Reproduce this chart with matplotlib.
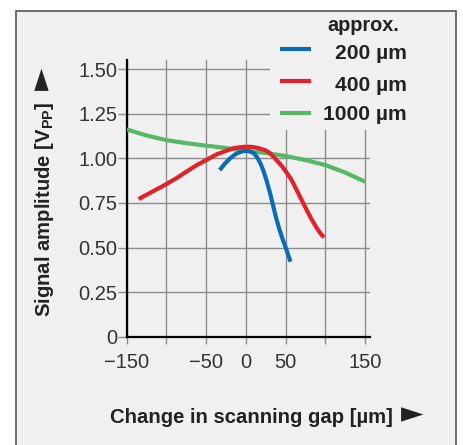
import matplotlib
matplotlib.use('Agg')
import matplotlib.pyplot as plt
from matplotlib.patches import Rectangle
from matplotlib.lines import Line2D

plt.rcParams['font.family'] = ['Liberation Sans', 'DejaVu Sans']
plt.rcParams['mathtext.fontset'] = 'custom'
plt.rcParams['mathtext.bf'] = 'Liberation Sans:bold'
plt.rcParams['mathtext.rm'] = 'Liberation Sans:bold'
plt.rcParams['mathtext.default'] = 'bf'

# ==================== data ====================
gap_200 = [-33, -27, -20, -12, -4, 0, 5, 10, 14, 18, 22, 26, 30, 34, 38, 42, 46, 50, 53, 56]
amp_200 = [0.934, 0.968, 1.000, 1.027, 1.040, 1.042, 1.039, 1.028, 1.006, 0.974,
           0.930, 0.874, 0.810, 0.738, 0.665, 0.603, 0.548, 0.500, 0.460, 0.421]

gap_400 = [-135, -120, -100, -87, -75, -62, -50, -37, -25, -16, -8, 0, 8, 16, 24,
           30, 36.5, 43, 49, 57.5, 65.8, 74.2, 78.4, 82.6, 86.8, 91, 94.5, 98]
amp_400 = [0.772, 0.808, 0.856, 0.890, 0.925, 0.962, 0.990, 1.022, 1.042, 1.056, 1.062, 1.065,
           1.064, 1.057, 1.046, 1.030, 1.000, 0.968, 0.934, 0.878, 0.804, 0.729, 0.693, 0.658,
           0.626, 0.596, 0.575, 0.557]

gap_1000 = [-150, -125, -100, -75, -50, -25, 0, 25, 50, 75, 100, 125, 150]
amp_1000 = [1.162, 1.128, 1.102, 1.085, 1.071, 1.058, 1.043, 1.030, 1.013, 0.990, 0.962, 0.920, 0.869]

series_labels = ['200 µm', '400 µm', '1000 µm']
series_colors = ['#0a6cb6', '#e4212a', '#55b864']

x_ticks = [-150, -100, -50, 0, 50, 100, 150]
x_ticklabels = ['\u2212150', '', '\u221250', '0', '50', '', '150']
y_ticks = [0, 0.25, 0.5, 0.75, 1.0, 1.25, 1.5]
y_ticklabels = ['0', '0.25', '0.50', '0.75', '1.00', '1.25', '1.50']

# ==================== figure ====================
W, H = 463, 445
bg = '#f0f0f0'
grid_col = '#8c8c8c'
txt_col = '#222222'

fig = plt.figure(figsize=(W / 100, H / 100), dpi=100)
fig.patch.set_facecolor('white')
fig.add_artist(Rectangle((15.5 / W, -0.05), (456 - 15.5) / W, 1.05 - 10.5 / H,
                         transform=fig.transFigure, facecolor=bg, edgecolor='#555555',
                         lw=1.2, zorder=-1))

ax = fig.add_axes([126.7 / W, 108.2 / H, 243.3 / W, 276.8 / H])
ax.set_facecolor('none')
ax.set_xlim(-150, 156)
ax.set_ylim(0, 1.551)

ax.set_xticks(x_ticks)
ax.set_xticklabels(x_ticklabels)
ax.set_yticks(y_ticks)
ax.set_yticklabels(y_ticklabels)
ax.tick_params(axis='x', direction='out', length=5, width=1, color=grid_col,
               pad=6.5, labelsize=14.5, labelcolor='#333333')
ax.tick_params(axis='y', direction='out', length=6.5, width=1, color=grid_col,
               pad=0.3, labelsize=14.5, labelcolor='#333333')
ax.xaxis.get_major_ticks()[0].tick1line.set_color('black')
ax.yaxis.get_major_ticks()[0].tick1line.set_color('black')

ax.grid(color=grid_col, lw=1)
ax.set_axisbelow(True)
for s in ['top', 'right']:
    ax.spines[s].set_visible(False)
for s in ['left', 'bottom']:
    ax.spines[s].set_color('black')
    ax.spines[s].set_linewidth(1.6)

# legend area hides the grid in the upper right corner
ax.add_patch(Rectangle((30.2, 1.158), 200, 1, facecolor=bg, edgecolor='none', zorder=1.5))

ax.plot(gap_1000, amp_1000, color=series_colors[2], lw=3, solid_capstyle='butt', zorder=3)
ax.plot(gap_200, amp_200, color=series_colors[0], lw=3, solid_capstyle='butt', zorder=3)
ax.plot(gap_400, amp_400, color=series_colors[1], lw=3, solid_capstyle='butt', zorder=3)

# ==================== legend (drawn by hand, right aligned) ====================
fig.text(363 / W, 1 - 30.7 / H, 'approx.', ha='center', va='baseline',
         fontsize=14.3, fontweight='bold', color=txt_col)
row_line_y = [49, 81, 113.3]
row_base_y = [59.3, 90.7, 120]
for lab, col, ly, by in zip(series_labels, series_colors, row_line_y, row_base_y):
    fig.add_artist(Line2D([279.5 / W, 311 / W], [1 - ly / H, 1 - ly / H], color=col,
                          lw=3, solid_capstyle='butt', transform=fig.transFigure))
    fig.text(406.7 / W, 1 - by / H, lab, ha='right', va='baseline',
             fontsize=15.1, fontweight='bold', color=txt_col)

# ==================== axis titles with arrows ====================
renderer = fig.canvas.get_renderer()

xl = fig.text(110 / W, 1 - 423.3 / H, 'Change in scanning gap [µm]', ha='left', va='baseline',
              fontsize=14.6, fontweight='bold', color=txt_col)
bb = xl.get_window_extent(renderer)
fig.text((bb.x1 + 8) / W, 1 - 422.5 / H, '\u25ba', ha='left', va='baseline',
         family='DejaVu Sans', fontsize=21, color=txt_col)

yl = fig.text(50 / W, 1 - 317 / H, r'Signal amplitude [$V_{PP}$]', rotation=90,
              rotation_mode='anchor', ha='left', va='baseline',
              fontsize=14.6, fontweight='bold', color=txt_col)
bb = yl.get_window_extent(renderer)
fig.text(50.5 / W, (bb.y1 + 12) / H, '\u25ba', rotation=90, rotation_mode='anchor',
         ha='left', va='baseline', family='DejaVu Sans', fontsize=21, color=txt_col)

fig.savefig('out.png', dpi=100)
